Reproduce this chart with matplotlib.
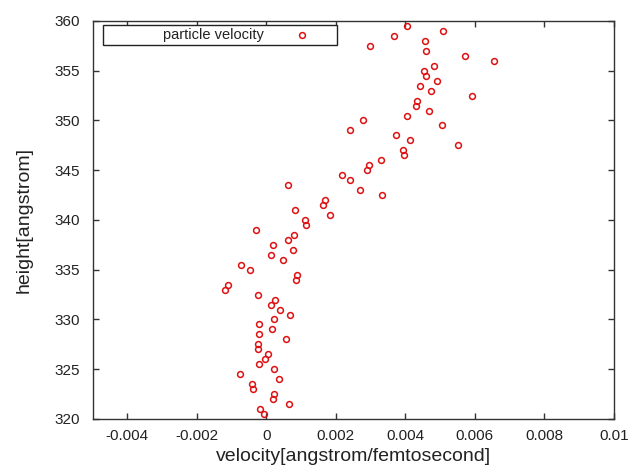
import matplotlib
matplotlib.use("Agg")
import matplotlib.pyplot as plt
from matplotlib.patches import Rectangle

plt.rcParams['font.family'] = ['Liberation Sans', 'DejaVu Sans']

# particle velocity vs height
height = [359.5, 359.0, 358.5, 358.0, 357.5, 357.0, 356.5, 356.0, 355.5, 355.0,
          354.5, 354.0, 353.5, 353.0, 352.5, 352.0, 351.5, 351.0, 350.5, 350.0,
          349.5, 349.0, 348.5, 348.0, 347.5, 347.0, 346.5, 346.0, 345.5, 345.0,
          344.5, 344.0, 343.5, 343.0, 342.5, 342.0, 341.5, 341.0, 340.5, 340.0,
          339.5, 339.0, 338.5, 338.0, 337.5, 337.0, 336.5, 336.0, 335.5, 335.0,
          334.5, 334.0, 333.5, 333.0, 332.5, 332.0, 331.5, 331.0, 330.5, 330.0,
          329.5, 329.0, 328.5, 328.0, 327.5, 327.0, 326.5, 326.0, 325.5, 325.0,
          324.5, 324.0, 323.5, 323.0, 322.5, 322.0, 321.5, 321.0, 320.5]
velocity = [0.00404, 0.00509, 0.00366, 0.00457, 0.00297, 0.00460, 0.00571, 0.00654, 0.00482, 0.00454,
            0.00460, 0.00492, 0.00443, 0.00474, 0.00592, 0.00434, 0.00430, 0.00469, 0.00404, 0.00279,
            0.00505, 0.00241, 0.00372, 0.00413, 0.00550, 0.00392, 0.00395, 0.00329, 0.00294, 0.00289,
            0.00217, 0.00241, 0.00063, 0.00269, 0.00332, 0.00168, 0.00163, 0.00083, 0.00183, 0.00112,
            0.00115, -0.00029, 0.00081, 0.00062, 0.00020, 0.00077, 0.00012, 0.00048, -0.00072, -0.00046,
            0.00089, 0.00085, -0.00111, -0.00119, -0.00025, 0.00025, 0.00014, 0.00040, 0.00068, 0.00023,
            -0.00022, 0.00017, -0.00022, 0.00057, -0.00025, -0.00025, 0.00006, -0.00003, -0.00020, 0.00023,
            -0.00075, 0.00037, -0.00040, -0.00037, 0.00023, 0.00020, 0.00066, -0.00017, -0.00006]

xticks = [-0.004, -0.002, 0, 0.002, 0.004, 0.006, 0.008, 0.01]
xtick_labels = ['-0.004', '-0.002', '0', '0.002', '0.004', '0.006', '0.008', '0.01']
yticks = [320, 325, 330, 335, 340, 345, 350, 355, 360]

red = "#dd1111"
frame = "#333333"

fig = plt.figure(figsize=(6.3, 4.72), dpi=100)
ax = fig.add_axes([92.5 / 630, 53 / 472, 521.5 / 630, 398 / 472])

ax.plot(velocity, height, linestyle="none", marker="o", markersize=4.2,
        markerfacecolor="none", markeredgecolor=red, markeredgewidth=1.1)

ax.set_xlim(-0.005, 0.01)
ax.set_ylim(320, 360)
ax.set_xticks(xticks)
ax.set_xticklabels(xtick_labels)
ax.set_yticks(yticks)

for s in ax.spines.values():
    s.set_color(frame)
    s.set_linewidth(1.0)
ax.tick_params(direction="in", length=4, width=1.0, color=frame,
               top=True, right=True, labelsize=11, labelcolor="#222222")
ax.tick_params(axis="y", pad=9)
ax.tick_params(axis="x", pad=7)

ax.set_xlabel("velocity[angstrom/femtosecond]", fontsize=14, color="#222222", labelpad=4)
ax.set_ylabel("height[angstrom]", fontsize=14, color="#222222", labelpad=16)

# gnuplot style key box
x0 = (103 - 92.5) / 521.5
x1 = (337 - 92.5) / 521.5
y1 = (419 - 25) / 398
y0 = (419 - 45) / 398
ax.add_patch(Rectangle((x0, y0), x1 - x0, y1 - y0, transform=ax.transAxes,
                       facecolor="white", edgecolor="#222222", linewidth=1.0, zorder=5))
ax.text((213 - 92.5) / 521.5, (y0 + y1) / 2, "particle velocity", transform=ax.transAxes,
        ha="center", va="center", fontsize=10.5, color="#222222", zorder=6)
ax.plot([(302 - 92.5) / 521.5], [(y0 + y1) / 2], transform=ax.transAxes, linestyle="none",
        marker="o", markersize=4.2, markerfacecolor="none", markeredgecolor=red,
        markeredgewidth=1.1, zorder=6, clip_on=False)

fig.savefig("out.png", dpi=100)
